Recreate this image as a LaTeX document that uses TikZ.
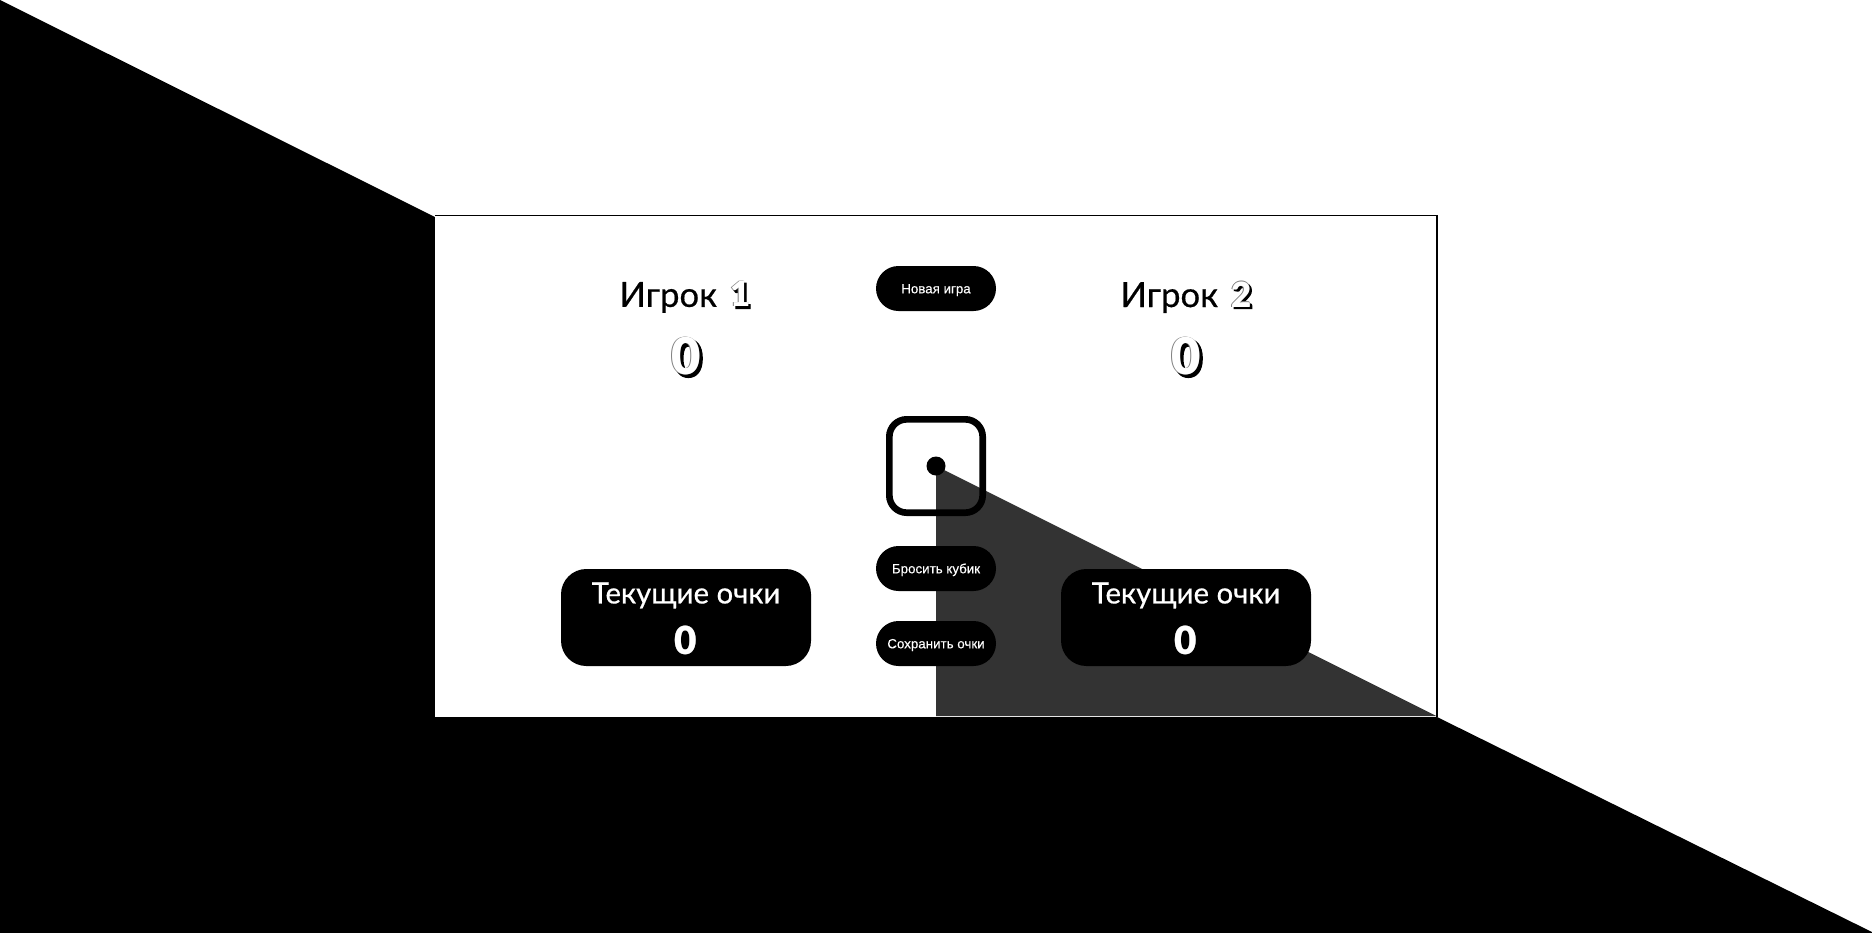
\documentclass[tikz,border=0pt]{standalone}
\usepackage{fontspec}
\setmainfont{Liberation Sans}
\newfontfamily\buttonfont[FakeBold=0.25]{Liberation Sans}
\newfontfamily\titlefont[FakeBold=0.5]{Lato}
\newfontfamily\digitfont{Lato Black}
\newfontfamily\shadowfont[FakeBold=3]{Lato Black}
\usetikzlibrary{positioning}

% digit: thin grey edge, offset shadow, then the fill on top
\newcommand{\shadowdigit}[2]{%
  \makebox[0pt][l]{\kern#2\raisebox{-#2}{\shadowfont\color{black}#1}}%
  \makebox[0pt][l]{\kern-0.35pt{\color{gray}#1}}%
  \makebox[0pt][l]{\raisebox{0.35pt}{\color{gray}#1}}%
  {\color{white}#1}}

\tikzset{
  pill/.style={fill=black, text=white, rounded corners=16.875pt, minimum width=90pt, minimum height=33.75pt, inner sep=0pt, text height=7.2pt, text depth=0pt, font=\buttonfont\fontsize{10}{12}\selectfont},
  currentbox/.style={fill=black, rounded corners=19pt, minimum width=187.5pt, minimum height=72.75pt, inner sep=0pt},
  playername/.style={text=black, inner sep=0pt, font=\titlefont\fontsize{26}{32}\selectfont},
  score/.style={inner sep=0pt, font=\digitfont\fontsize{38}{42}\selectfont},
  currentlabel/.style={text=white, inner sep=0pt, font=\titlefont\fontsize{22}{26}\selectfont},
  currentscore/.style={inner sep=0pt, font=\digitfont\fontsize{29}{32}\selectfont}
}

\begin{document}
\begin{tikzpicture}[x=0.75pt, y=-0.75pt]
\useasboundingbox (0,0) rectangle (1872,932);

% Draw the page background
\fill[black] (-2,-1) -- (435,217) -- (435,717) -- (1437,717) -- (1876,934) -- (-2,934) -- cycle;

% Draw the card
\fill[white] (435,215) rectangle (1437,717);
\fill[black!80] (936,466) -- (1436.5,716) -- (936,716) -- cycle;
\draw[black, line width=0.9pt] (435,215.5) -- (1437,215.5) -- (1437,716.5);

% Add the players
\node[playername] (name1) at (685,297) {Игрок\hspace{10pt}{\digitfont\shadowdigit{1}{1.2pt}}};
\node[playername] (name2) at (1186,297) {Игрок\hspace{10pt}{\digitfont\shadowdigit{2}{1.2pt}}};
\node[score] (score1) at (686,357) {\shadowdigit{0}{1.8pt}};
\node[score] (score2) at (1186,357) {\shadowdigit{0}{1.8pt}};

% Add the buttons
\node[pill] (newgame) at (936,288.5) {Новая игра};
\node[pill] (roll) at (936,568.5) {Бросить кубик};
\node[pill] (hold) at (936,643.5) {Сохранить очки};

% Add the dice
\node[draw=black, line width=5pt, rounded corners=13pt, minimum size=70pt, inner sep=0pt, outer sep=0pt, shape=rectangle] (dice) at (936,466) {};
\fill[black] (936,466) circle (9.5);

% Add the current score boxes
\node[currentbox] (current1) at (686,617.5) {};
\node[currentbox] (current2) at (1186,617.5) {};
\node[currentlabel] (label1) at (686,595.5) {Текущие очки};
\node[currentlabel] (label2) at (1186,595.5) {Текущие очки};
\node[currentscore] (points1) at (686,641) {\shadowdigit{0}{1pt}};
\node[currentscore] (points2) at (1186,641) {\shadowdigit{0}{1pt}};

\end{tikzpicture}
\end{document}
